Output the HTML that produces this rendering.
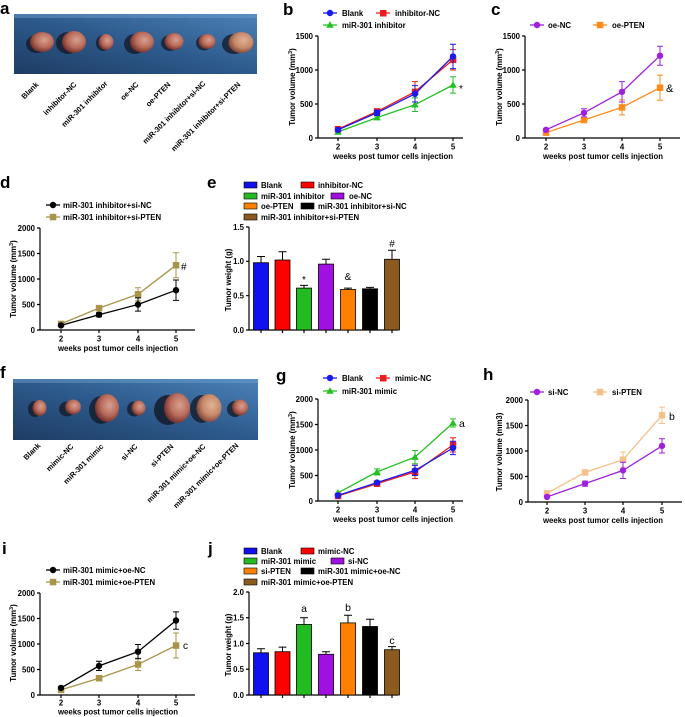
<!DOCTYPE html>
<html><head><meta charset="utf-8"><style>
html,body{margin:0;padding:0;background:#fff}
svg{display:block}
.t{font-family:"Liberation Sans",Arial,sans-serif;font-weight:bold;font-size:7.8px;fill:#000}
.pl{font-family:"Liberation Sans",Arial,sans-serif;font-weight:bold;font-size:17px;fill:#000}
.an{font-family:"Liberation Sans",Arial,sans-serif;font-size:10px;fill:#000}
.ax{stroke:#000;stroke-width:1.2;fill:none}
.ln{fill:none;stroke-width:1.3}
.eb{fill:none;stroke-width:1}
</style></head><body>
<svg width="685" height="717" viewBox="0 0 685 717" xmlns="http://www.w3.org/2000/svg">
<defs>
<linearGradient id="bg" x1="0" y1="1" x2="1" y2="0">
<stop offset="0" stop-color="#1d3c63"/><stop offset="0.5" stop-color="#2d5a8c"/><stop offset="1" stop-color="#4c82b8"/>
</linearGradient>
<radialGradient id="tm" cx="0.6" cy="0.4" r="0.65">
<stop offset="0" stop-color="#d9a090"/><stop offset="0.55" stop-color="#b86c5c"/><stop offset="1" stop-color="#6a2a25"/>
</radialGradient>
<radialGradient id="tm2" cx="0.6" cy="0.4" r="0.65">
<stop offset="0" stop-color="#e2b296"/><stop offset="0.55" stop-color="#c68a6c"/><stop offset="1" stop-color="#7a3e30"/>
</radialGradient>
</defs>

<!-- ===== Panel a ===== -->
<text class="pl" x="0" y="14">a</text>
<rect x="14" y="14" width="243" height="60" fill="url(#bg)"/>
<rect x="14" y="14" width="243" height="4" fill="#6a9ccc" opacity="0.5"/>
<g>
<ellipse cx="37" cy="44" rx="11" ry="9" fill="#121826" opacity="0.75"/>
<ellipse cx="42" cy="42" rx="12" ry="10" fill="url(#tm)"/>
<ellipse cx="68" cy="43" rx="12" ry="11" fill="#121826" opacity="0.75"/>
<ellipse cx="74" cy="42" rx="12" ry="11" fill="url(#tm)"/>
<ellipse cx="103" cy="43" rx="7" ry="8" fill="#121826" opacity="0.75"/>
<ellipse cx="106" cy="42" rx="7.5" ry="8" fill="url(#tm)"/>
<ellipse cx="135" cy="44" rx="11" ry="10" fill="#121826" opacity="0.75"/>
<ellipse cx="142" cy="42" rx="12" ry="10.5" fill="url(#tm)"/>
<ellipse cx="170" cy="43" rx="9" ry="8" fill="#121826" opacity="0.75"/>
<ellipse cx="174" cy="41.5" rx="9.5" ry="8.5" fill="url(#tm)"/>
<ellipse cx="204" cy="43" rx="8" ry="7.5" fill="#121826" opacity="0.75"/>
<ellipse cx="207" cy="41.5" rx="8.5" ry="7.5" fill="url(#tm)"/>
<ellipse cx="234" cy="44" rx="12" ry="10" fill="#121826" opacity="0.75"/>
<ellipse cx="241" cy="42.5" rx="12.5" ry="10.5" fill="url(#tm2)"/>
</g>
<g class="t" style="font-size:7.5px" text-anchor="end">
<text transform="translate(39,85) rotate(-45)">Blank</text>
<text transform="translate(77,85) rotate(-45)">inhibitor-NC</text>
<text transform="translate(108,84) rotate(-45)">miR-301 inhibitor</text>
<text transform="translate(139,85) rotate(-45)">oe-NC</text>
<text transform="translate(171,85) rotate(-45)">oe-PTEN</text>
<text transform="translate(206,84) rotate(-45)">miR-301 inhibitor+si-NC</text>
<text transform="translate(241,85) rotate(-45)">miR-301 inhibitor+si-PTEN</text>
</g>

<!-- ===== Panel b ===== -->
<text class="pl" x="283" y="15">b</text>
<g>
<line x1="323" y1="13" x2="337" y2="13" stroke="#1a1aee" stroke-width="1.3"/><circle cx="330" cy="13" r="3.2" fill="#1a1aee"/>
<text class="t" x="342" y="16">Blank</text>
<line x1="376" y1="13" x2="390" y2="13" stroke="#ee1c1c" stroke-width="1.3"/><rect x="380" y="10" width="6.5" height="6.5" fill="#ee1c1c"/>
<text class="t" x="395" y="16">inhibitor-NC</text>
<line x1="323" y1="25" x2="337" y2="25" stroke="#22c022" stroke-width="1.3"/><polygon points="330,21.3 333.8,27.8 326.2,27.8" fill="#22c022"/>
<text class="t" x="342" y="28">miR-301 inhibitor</text>
</g>
<path class="ax" d="M318,36 V138 H463"/>
<path class="ax" d="M315,36 H318 M315,70 H318 M315,104 H318 M315,138 H318 M338,138 V141 M377,138 V141 M415,138 V141 M453,138 V141"/>
<g class="t" text-anchor="end"><text x="313" y="38.8">1500</text><text x="313" y="72.8">1000</text><text x="313" y="106.8">500</text><text x="313" y="140.8">0</text></g>
<g class="t" text-anchor="middle"><text x="338" y="149.5">2</text><text x="377" y="149.5">3</text><text x="415" y="149.5">4</text><text x="453" y="149.5">5</text>
<text x="393" y="159">weeks post tumor cells injection</text></g>
<text class="t" text-anchor="middle" transform="translate(295,87) rotate(-90)">Tumor volume (mm<tspan dy="-3" font-size="5.5">3</tspan><tspan dy="3">)</tspan></text>
<polyline class="ln" stroke="#22c022" points="338,131.9 377,117.6 415,104.7 453,85"/>
<path class="eb" stroke="#22c022" d="M377,115.9V119.3M374,115.9H380M374,119.3H380 M415,97.9V111.5M412,97.9H418M412,111.5H418 M453,76.8V93.1M450,76.8H456M450,93.1H456"/>
<polygon points="338,128.2 341.8,134.7 334.2,134.7" fill="#22c022"/><polygon points="377,113.9 380.8,120.4 373.2,120.4" fill="#22c022"/><polygon points="415,101 418.8,107.5 411.2,107.5" fill="#22c022"/><polygon points="453,81.3 456.8,87.8 449.2,87.8" fill="#22c022"/>
<polyline class="ln" stroke="#ee1c1c" points="338,129.2 377,111.5 415,91.8 453,59.8"/>
<path class="eb" stroke="#ee1c1c" d="M377,108.8V114.2M374,108.8H380M374,114.2H380 M415,81.6V102M412,81.6H418M412,102H418 M453,49.6V70M450,49.6H456M450,70H456"/>
<rect x="334.8" y="126" width="6.5" height="6.5" fill="#ee1c1c"/><rect x="373.8" y="108.3" width="6.5" height="6.5" fill="#ee1c1c"/><rect x="411.8" y="88.6" width="6.5" height="6.5" fill="#ee1c1c"/><rect x="449.8" y="56.6" width="6.5" height="6.5" fill="#ee1c1c"/>
<polyline class="ln" stroke="#1a1aee" points="338,129.8 377,112.8 415,93.8 453,56.4"/>
<path class="eb" stroke="#1a1aee" d="M377,110.1V115.5M374,110.1H380M374,115.5H380 M415,85.6V102M412,85.6H418M412,102H418 M453,44.2V68.6M450,44.2H456M450,68.6H456"/>
<circle cx="338" cy="129.8" r="3.2" fill="#1a1aee"/><circle cx="377" cy="112.8" r="3.2" fill="#1a1aee"/><circle cx="415" cy="93.8" r="3.2" fill="#1a1aee"/><circle cx="453" cy="56.4" r="3.2" fill="#1a1aee"/>
<text class="an" x="459" y="92">*</text>

<!-- ===== Panel c ===== -->
<text class="pl" x="491" y="15">c</text>
<line x1="530" y1="25" x2="544" y2="25" stroke="#a020e0" stroke-width="1.3"/><circle cx="537" cy="25" r="3.2" fill="#a020e0"/>
<text class="t" x="548" y="28">oe-NC</text>
<line x1="593" y1="25" x2="607" y2="25" stroke="#ff8c1a" stroke-width="1.3"/><rect x="596.8" y="21.8" width="6.5" height="6.5" fill="#ff8c1a"/>
<text class="t" x="612" y="28">oe-PTEN</text>
<path class="ax" d="M525,36 V138 H680"/>
<path class="ax" d="M522,36 H525 M522,70 H525 M522,104 H525 M522,138 H525 M546,138 V141 M584,138 V141 M622,138 V141 M660,138 V141"/>
<g class="t" text-anchor="end"><text x="520" y="38.8">1500</text><text x="520" y="72.8">1000</text><text x="520" y="106.8">500</text><text x="520" y="140.8">0</text></g>
<g class="t" text-anchor="middle"><text x="546" y="149.5">2</text><text x="584" y="149.5">3</text><text x="622" y="149.5">4</text><text x="660" y="149.5">5</text>
<text x="603" y="159">weeks post tumor cells injection</text></g>
<text class="t" text-anchor="middle" transform="translate(502,87) rotate(-90)">Tumor volume (mm<tspan dy="-3" font-size="5.5">3</tspan><tspan dy="3">)</tspan></text>
<polyline class="ln" stroke="#ff8c1a" points="546,132.6 584,120 622,107.4 660,87.7"/>
<path class="eb" stroke="#ff8c1a" d="M622,99.9V114.9M619,99.9H625M619,114.9H625 M660,75.1V100.3M657,75.1H663M657,100.3H663"/>
<rect x="542.8" y="129.4" width="6.5" height="6.5" fill="#ff8c1a"/><rect x="580.8" y="116.8" width="6.5" height="6.5" fill="#ff8c1a"/><rect x="618.8" y="104.2" width="6.5" height="6.5" fill="#ff8c1a"/><rect x="656.8" y="84.5" width="6.5" height="6.5" fill="#ff8c1a"/>
<polyline class="ln" stroke="#a020e0" points="546,129.8 584,112.8 622,91.8 660,55.7"/>
<path class="eb" stroke="#a020e0" d="M584,108.8V116.9M581,108.8H587M581,116.9H587 M622,81.6V102M619,81.6H625M619,102H625 M660,46.2V65.2M657,46.2H663M657,65.2H663"/>
<circle cx="546" cy="129.8" r="3.2" fill="#a020e0"/><circle cx="584" cy="112.8" r="3.2" fill="#a020e0"/><circle cx="622" cy="91.8" r="3.2" fill="#a020e0"/><circle cx="660" cy="55.7" r="3.2" fill="#a020e0"/>
<text class="an" x="666" y="92" style="font-size:11px">&amp;</text>

<!-- ===== Panel d ===== -->
<text class="pl" x="0" y="188">d</text>
<line x1="46" y1="205" x2="60" y2="205" stroke="#000" stroke-width="1.3"/><circle cx="53" cy="205" r="3.2" fill="#000"/>
<text class="t" x="63" y="208">miR-301 inhibitor+si-NC</text>
<line x1="46" y1="217" x2="60" y2="217" stroke="#a8944a" stroke-width="1.3"/><rect x="49.8" y="213.8" width="6.5" height="6.5" fill="#a8944a"/>
<text class="t" x="63" y="220">miR-301 inhibitor+si-PTEN</text>
<path class="ax" d="M40,228 V330 H195"/>
<path class="ax" d="M37,228 H40 M37,253.5 H40 M37,279 H40 M37,304.5 H40 M37,330 H40 M61,330 V333 M99,330 V333 M138,330 V333 M176,330 V333"/>
<g class="t" text-anchor="end"><text x="35" y="230.8">2000</text><text x="35" y="256.3">1500</text><text x="35" y="281.8">1000</text><text x="35" y="307.3">500</text><text x="35" y="332.8">0</text></g>
<g class="t" text-anchor="middle"><text x="61" y="341.5">2</text><text x="99" y="341.5">3</text><text x="138" y="341.5">4</text><text x="176" y="341.5">5</text>
<text x="118" y="351">weeks post tumor cells injection</text></g>
<text class="t" text-anchor="middle" transform="translate(16,279) rotate(-90)">Tumor volume (mm<tspan dy="-3" font-size="5.5">3</tspan><tspan dy="3">)</tspan></text>
<polyline class="ln" stroke="#a8944a" points="61,323.9 99,308.1 138,294.3 176,265.2"/>
<path class="eb" stroke="#a8944a" d="M99,306.6V309.6M96,306.6H102M96,309.6H102 M138,287.7V300.9M135,287.7H141M135,300.9H141 M176,252.7V277.7M173,252.7H179M173,277.7H179"/>
<rect x="57.8" y="320.7" width="6.5" height="6.5" fill="#a8944a"/><rect x="95.8" y="304.9" width="6.5" height="6.5" fill="#a8944a"/><rect x="134.8" y="291.1" width="6.5" height="6.5" fill="#a8944a"/><rect x="172.8" y="262" width="6.5" height="6.5" fill="#a8944a"/>
<polyline class="ln" stroke="#000" points="61,325.4 99,314.7 138,304.5 176,290.2"/>
<path class="eb" stroke="#000" d="M99,312.7V316.7M96,312.7H102M96,316.7H102 M138,297.9V311.1M135,297.9H141M135,311.1H141 M176,280V300.4M173,280H179M173,300.4H179"/>
<circle cx="61" cy="325.4" r="3.2"/><circle cx="99" cy="314.7" r="3.2"/><circle cx="138" cy="304.5" r="3.2"/><circle cx="176" cy="290.2" r="3.2"/>
<text class="an" x="181" y="270">#</text>

<!-- ===== Panel e ===== -->
<text class="pl" x="207" y="188">e</text>
<g>
<rect x="244" y="182" width="13" height="6" fill="#1010f0" stroke="#000" stroke-width="0.6"/><text class="t" x="261" y="188">Blank</text>
<rect x="301" y="182" width="13" height="6" fill="#ff0000" stroke="#000" stroke-width="0.6"/><text class="t" x="318" y="188">inhibitor-NC</text>
<rect x="244" y="193" width="13" height="6" fill="#22bb22" stroke="#000" stroke-width="0.6"/><text class="t" x="261" y="199">miR-301 inhibitor</text>
<rect x="331" y="193" width="13" height="6" fill="#a010e0" stroke="#000" stroke-width="0.6"/><text class="t" x="349" y="199">oe-NC</text>
<rect x="244" y="203" width="13" height="6" fill="#ff8000" stroke="#000" stroke-width="0.6"/><text class="t" x="261" y="209">oe-PTEN</text>
<rect x="301" y="203" width="13" height="6" fill="#000" stroke="#000" stroke-width="0.6"/><text class="t" x="318" y="209">miR-301 inhibitor+si-NC</text>
<rect x="244" y="214" width="13" height="6" fill="#8b5a1e" stroke="#000" stroke-width="0.6"/><text class="t" x="261" y="220">miR-301 inhibitor+si-PTEN</text>
</g>
<path class="ax" d="M249,227 V330 H398"/>
<path class="ax" d="M246,227 H249 M246,261.3 H249 M246,295.7 H249 M246,330 H249 M261,330 V333 M282.5,330 V333 M304,330 V333 M326,330 V333 M348,330 V333 M370,330 V333 M392,330 V333"/>
<g class="t" text-anchor="end"><text x="244" y="229.8">1.5</text><text x="244" y="264.1">1.0</text><text x="244" y="298.5">0.5</text><text x="244" y="332.8">0.0</text></g>
<text class="t" text-anchor="middle" transform="translate(231,280) rotate(-90)">Tumor weight (g)</text>
<path class="eb" stroke="#000" d="M261,262.7V256.5M257,256.5H265 M282.5,260V251.7M278.5,251.7H286.5 M304,288.1V285.4M300,285.4H308 M326,264.1V259.3M322,259.3H330 M348,289.5V288.1M344,288.1H352 M370,288.8V287.4M366,287.4H374 M392,259.3V250.3M388,250.3H396"/>
<g stroke="#000" stroke-width="0.8">
<rect x="253.5" y="262.7" width="15" height="67.3" fill="#1010f0"/>
<rect x="275" y="260" width="15" height="70" fill="#ff0000"/>
<rect x="296.5" y="288.1" width="15" height="41.9" fill="#22bb22"/>
<rect x="318.5" y="264.1" width="15" height="65.9" fill="#a010e0"/>
<rect x="340.5" y="289.5" width="15" height="40.5" fill="#ff8000"/>
<rect x="362.5" y="288.8" width="15" height="41.2" fill="#000"/>
<rect x="384.5" y="259.3" width="15" height="70.7" fill="#8b5a1e"/>
</g>
<g class="an" text-anchor="middle"><text x="304" y="283">*</text><text x="348" y="280">&amp;</text><text x="392" y="247">#</text></g>

<!-- ===== Panel f ===== -->
<text class="pl" x="0" y="378">f</text>
<rect x="13" y="379" width="245" height="61" fill="url(#bg)"/>
<rect x="13" y="379" width="245" height="4" fill="#6a9ccc" opacity="0.5"/>
<g>
<ellipse cx="35" cy="409" rx="7" ry="8" fill="#121826" opacity="0.75"/>
<ellipse cx="39.5" cy="408" rx="7" ry="8" fill="url(#tm)"/>
<ellipse cx="67" cy="409" rx="8" ry="7.5" fill="#121826" opacity="0.75"/>
<ellipse cx="73" cy="407" rx="8" ry="7.5" fill="url(#tm)"/>
<ellipse cx="101" cy="410" rx="12" ry="14" fill="#121826" opacity="0.75"/>
<ellipse cx="107" cy="408" rx="12" ry="14" fill="url(#tm)"/>
<ellipse cx="134" cy="409" rx="7" ry="7.5" fill="#121826" opacity="0.75"/>
<ellipse cx="138.5" cy="408" rx="7" ry="7.5" fill="url(#tm)"/>
<ellipse cx="168" cy="410" rx="14" ry="15" fill="#121826" opacity="0.8"/>
<ellipse cx="177" cy="408" rx="13" ry="15" fill="url(#tm)"/>
<ellipse cx="202" cy="409" rx="12" ry="14" fill="#121826" opacity="0.75"/>
<ellipse cx="209" cy="408" rx="12.5" ry="14" fill="url(#tm2)"/>
<ellipse cx="235" cy="409" rx="8" ry="8" fill="#121826" opacity="0.75"/>
<ellipse cx="240" cy="407.5" rx="8" ry="8" fill="url(#tm)"/>
</g>
<g class="t" style="font-size:7.5px" text-anchor="end">
<text transform="translate(41,446) rotate(-45)">Blank</text>
<text transform="translate(74,447) rotate(-45)">mimic-NC</text>
<text transform="translate(104,447) rotate(-45)">miR-301 mimic</text>
<text transform="translate(138,447) rotate(-45)">si-NC</text>
<text transform="translate(174,447) rotate(-45)">si-PTEN</text>
<text transform="translate(206,447) rotate(-45)">miR-301 mimic+oe-NC</text>
<text transform="translate(239,446) rotate(-45)">miR-301 mimic+oe-PTEN</text>
</g>

<!-- ===== Panel g ===== -->
<text class="pl" x="276" y="381">g</text>
<line x1="323" y1="378" x2="337" y2="378" stroke="#1a1aee" stroke-width="1.3"/><circle cx="330" cy="378" r="3.2" fill="#1a1aee"/>
<text class="t" x="342" y="381">Blank</text>
<line x1="376" y1="378" x2="390" y2="378" stroke="#ee1c1c" stroke-width="1.3"/><rect x="380" y="375" width="6.5" height="6.5" fill="#ee1c1c"/>
<text class="t" x="395" y="381">mimic-NC</text>
<line x1="323" y1="391" x2="337" y2="391" stroke="#22c022" stroke-width="1.3"/><polygon points="330,387.3 333.8,393.8 326.2,393.8" fill="#22c022"/>
<text class="t" x="342" y="394">miR-301 mimic</text>
<path class="ax" d="M318,399 V501 H463"/>
<path class="ax" d="M315,399 H318 M315,424.5 H318 M315,450 H318 M315,475.5 H318 M315,501 H318 M338,501 V504 M377,501 V504 M415,501 V504 M453,501 V504"/>
<g class="t" text-anchor="end"><text x="313" y="401.8">2000</text><text x="313" y="427.3">1500</text><text x="313" y="452.8">1000</text><text x="313" y="478.3">500</text><text x="313" y="503.8">0</text></g>
<g class="t" text-anchor="middle"><text x="338" y="512.5">2</text><text x="377" y="512.5">3</text><text x="415" y="512.5">4</text><text x="453" y="512.5">5</text>
<text x="393" y="522">weeks post tumor cells injection</text></g>
<text class="t" text-anchor="middle" transform="translate(295,450) rotate(-90)">Tumor volume (mm<tspan dy="-3" font-size="5.5">3</tspan><tspan dy="3">)</tspan></text>
<polyline class="ln" stroke="#22c022" points="338,492.8 377,471.9 415,457.1 453,423"/>
<path class="eb" stroke="#22c022" d="M377,468.9V475M374,468.9H380M374,475H380 M415,450.5V463.8M412,450.5H418M412,463.8H418 M453,418.9V427M450,418.9H456M450,427H456"/>
<polygon points="338,489.1 341.8,495.6 334.2,495.6" fill="#22c022"/><polygon points="377,468.2 380.8,474.7 373.2,474.7" fill="#22c022"/><polygon points="415,453.4 418.8,459.9 411.2,459.9" fill="#22c022"/><polygon points="453,419.3 456.8,425.8 449.2,425.8" fill="#22c022"/>
<polyline class="ln" stroke="#ee1c1c" points="338,495.9 377,483.7 415,471.9 453,444.9"/>
<path class="eb" stroke="#ee1c1c" d="M377,482.2V485.2M374,482.2H380M374,485.2H380 M415,465.3V478.6M412,465.3H418M412,478.6H418 M453,437.8V452M450,437.8H456M450,452H456"/>
<rect x="334.8" y="492.7" width="6.5" height="6.5" fill="#ee1c1c"/><rect x="373.8" y="480.5" width="6.5" height="6.5" fill="#ee1c1c"/><rect x="411.8" y="468.7" width="6.5" height="6.5" fill="#ee1c1c"/><rect x="449.8" y="441.7" width="6.5" height="6.5" fill="#ee1c1c"/>
<polyline class="ln" stroke="#1a1aee" points="338,495.4 377,482.6 415,470.4 453,448"/>
<path class="eb" stroke="#1a1aee" d="M377,481.1V484.1M374,481.1H380M374,484.1H380 M415,465.3V475.5M412,465.3H418M412,475.5H418 M453,441.3V454.6M450,441.3H456M450,454.6H456"/>
<circle cx="338" cy="495.4" r="3.2" fill="#1a1aee"/><circle cx="377" cy="482.6" r="3.2" fill="#1a1aee"/><circle cx="415" cy="470.4" r="3.2" fill="#1a1aee"/><circle cx="453" cy="448" r="3.2" fill="#1a1aee"/>
<text class="an" x="459" y="427" style="font-size:10.5px">a</text>

<!-- ===== Panel h ===== -->
<text class="pl" x="483" y="380">h</text>
<line x1="530" y1="392" x2="544" y2="392" stroke="#a020e0" stroke-width="1.3"/><circle cx="537" cy="392" r="3.2" fill="#a020e0"/>
<text class="t" x="548" y="395">si-NC</text>
<line x1="593" y1="392" x2="607" y2="392" stroke="#f5c08a" stroke-width="1.3"/><rect x="596.8" y="388.8" width="6.5" height="6.5" fill="#f5c08a"/>
<text class="t" x="612" y="395">si-PTEN</text>
<path class="ax" d="M528,400 V502 H682"/>
<path class="ax" d="M525,400 H528 M525,425.5 H528 M525,451 H528 M525,476.5 H528 M525,502 H528 M547,502 V505 M585,502 V505 M623,502 V505 M662,502 V505"/>
<g class="t" text-anchor="end"><text x="523" y="402.8">2000</text><text x="523" y="428.3">1500</text><text x="523" y="453.8">1000</text><text x="523" y="479.3">500</text><text x="523" y="504.8">0</text></g>
<g class="t" text-anchor="middle"><text x="547" y="513.5">2</text><text x="585" y="513.5">3</text><text x="623" y="513.5">4</text><text x="662" y="513.5">5</text>
<text x="603" y="523">weeks post tumor cells injection</text></g>
<text class="t" text-anchor="middle" transform="translate(502,452) rotate(-90)">Tumor volume (mm3)</text>
<polyline class="ln" stroke="#f5c08a" points="547,493.3 585,472.4 623,459.7 662,415.3"/>
<path class="eb" stroke="#f5c08a" d="M623,452V467.3M620,452H626M620,467.3H626 M662,407.1V423.5M659,407.1H665M659,423.5H665"/>
<rect x="543.8" y="490.1" width="6.5" height="6.5" fill="#f5c08a"/><rect x="581.8" y="469.2" width="6.5" height="6.5" fill="#f5c08a"/><rect x="619.8" y="456.5" width="6.5" height="6.5" fill="#f5c08a"/><rect x="658.8" y="412.1" width="6.5" height="6.5" fill="#f5c08a"/>
<polyline class="ln" stroke="#a020e0" points="547,496.9 585,483.6 623,470.4 662,445.9"/>
<path class="eb" stroke="#a020e0" d="M585,481.1V486.2M582,481.1H588M582,486.2H588 M623,462.2V478.5M620,462.2H626M620,478.5H626 M662,438.8V453M659,438.8H665M659,453H665"/>
<circle cx="547" cy="496.9" r="3.2" fill="#a020e0"/><circle cx="585" cy="483.6" r="3.2" fill="#a020e0"/><circle cx="623" cy="470.4" r="3.2" fill="#a020e0"/><circle cx="662" cy="445.9" r="3.2" fill="#a020e0"/>
<text class="an" x="669" y="420" style="font-size:10.5px">b</text>

<!-- ===== Panel i ===== -->
<text class="pl" x="2" y="554">i</text>
<line x1="46" y1="570" x2="60" y2="570" stroke="#000" stroke-width="1.3"/><circle cx="53" cy="570" r="3.2" fill="#000"/>
<text class="t" x="63" y="573">miR-301 mimic+oe-NC</text>
<line x1="46" y1="582" x2="60" y2="582" stroke="#a8944a" stroke-width="1.3"/><rect x="49.8" y="578.8" width="6.5" height="6.5" fill="#a8944a"/>
<text class="t" x="63" y="585">miR-301 mimic+oe-PTEN</text>
<path class="ax" d="M40,593 V695 H195"/>
<path class="ax" d="M37,593 H40 M37,618.5 H40 M37,644 H40 M37,669.5 H40 M37,695 H40 M61,695 V698 M99,695 V698 M138,695 V698 M176,695 V698"/>
<g class="t" text-anchor="end"><text x="35" y="595.8">2000</text><text x="35" y="621.3">1500</text><text x="35" y="646.8">1000</text><text x="35" y="672.3">500</text><text x="35" y="697.8">0</text></g>
<g class="t" text-anchor="middle"><text x="61" y="705.5">2</text><text x="99" y="705.5">3</text><text x="138" y="705.5">4</text><text x="176" y="705.5">5</text>
<text x="118" y="714.5">weeks post tumor cells injection</text></g>
<text class="t" text-anchor="middle" transform="translate(16,643) rotate(-90)">Tumor volume (mm<tspan dy="-3" font-size="5.5">3</tspan><tspan dy="3">)</tspan></text>
<polyline class="ln" stroke="#a8944a" points="61,689.9 99,678.2 138,664.4 176,645.5"/>
<path class="eb" stroke="#a8944a" d="M99,676.7V679.7M96,676.7H102M96,679.7H102 M138,658.3V670.5M135,658.3H141M135,670.5H141 M176,633V658M173,633H179M173,658H179"/>
<rect x="57.8" y="686.7" width="6.5" height="6.5" fill="#a8944a"/><rect x="95.8" y="675" width="6.5" height="6.5" fill="#a8944a"/><rect x="134.8" y="661.2" width="6.5" height="6.5" fill="#a8944a"/><rect x="172.8" y="642.3" width="6.5" height="6.5" fill="#a8944a"/>
<polyline class="ln" stroke="#000" points="61,687.9 99,665.9 138,651.7 176,620.5"/>
<path class="eb" stroke="#000" d="M99,661.3V670.5M96,661.3H102M96,670.5H102 M138,644.5V658.8M135,644.5H141M135,658.8H141 M176,611.9V629.2M173,611.9H179M173,629.2H179"/>
<circle cx="61" cy="687.9" r="3.2"/><circle cx="99" cy="665.9" r="3.2"/><circle cx="138" cy="651.7" r="3.2"/><circle cx="176" cy="620.5" r="3.2"/>
<text class="an" x="183" y="649">c</text>

<!-- ===== Panel j ===== -->
<text class="pl" x="208" y="554">j</text>
<g>
<rect x="244" y="548" width="13" height="6" fill="#1010f0" stroke="#000" stroke-width="0.6"/><text class="t" x="261" y="554">Blank</text>
<rect x="301" y="548" width="13" height="6" fill="#ff0000" stroke="#000" stroke-width="0.6"/><text class="t" x="318" y="554">mimic-NC</text>
<rect x="244" y="558" width="13" height="6" fill="#22bb22" stroke="#000" stroke-width="0.6"/><text class="t" x="261" y="564">miR-301 mimic</text>
<rect x="331" y="558" width="13" height="6" fill="#a010e0" stroke="#000" stroke-width="0.6"/><text class="t" x="348" y="564">si-NC</text>
<rect x="244" y="568" width="13" height="6" fill="#ff8000" stroke="#000" stroke-width="0.6"/><text class="t" x="261" y="574">si-PTEN</text>
<rect x="301" y="568" width="13" height="6" fill="#000" stroke="#000" stroke-width="0.6"/><text class="t" x="318" y="574">miR-301 mimic+oe-NC</text>
<rect x="244" y="579" width="13" height="6" fill="#8b5a1e" stroke="#000" stroke-width="0.6"/><text class="t" x="261" y="585">miR-301 mimic+oe-PTEN</text>
</g>
<path class="ax" d="M249,592 V695 H398"/>
<path class="ax" d="M246,592 H249 M246,617.75 H249 M246,643.5 H249 M246,669.25 H249 M246,695 H249 M261,695 V698 M282.5,695 V698 M304,695 V698 M326,695 V698 M348,695 V698 M370,695 V698 M392,695 V698"/>
<g class="t" text-anchor="end"><text x="244" y="594.8">2.0</text><text x="244" y="620.5">1.5</text><text x="244" y="646.3">1.0</text><text x="244" y="672">0.5</text><text x="244" y="697.8">0.0</text></g>
<text class="t" text-anchor="middle" transform="translate(231,645) rotate(-90)">Tumor weight (g)</text>
<path class="eb" stroke="#000" d="M261,652.8V648.7M257,648.7H265 M282.5,651.7V647.1M278.5,647.1H286.5 M304,624.4V617.8M300,617.8H308 M326,654.3V651.7M322,651.7H330 M348,622.9V615.2M344,615.2H352 M370,626.5V619.3M366,619.3H374 M392,649.7V646.6M388,646.6H396"/>
<g stroke="#000" stroke-width="0.8">
<rect x="253.5" y="652.8" width="15" height="42.2" fill="#1010f0"/>
<rect x="275" y="651.7" width="15" height="43.3" fill="#ff0000"/>
<rect x="296.5" y="624.4" width="15" height="70.6" fill="#22bb22"/>
<rect x="318.5" y="654.3" width="15" height="40.7" fill="#a010e0"/>
<rect x="340.5" y="622.9" width="15" height="72.1" fill="#ff8000"/>
<rect x="362.5" y="626.5" width="15" height="68.5" fill="#000"/>
<rect x="384.5" y="649.7" width="15" height="45.3" fill="#8b5a1e"/>
</g>
<g class="an" text-anchor="middle" style="font-size:10.5px"><text x="304" y="612">a</text><text x="348" y="611">b</text><text x="392" y="644">c</text></g>
</svg>
</body></html>
